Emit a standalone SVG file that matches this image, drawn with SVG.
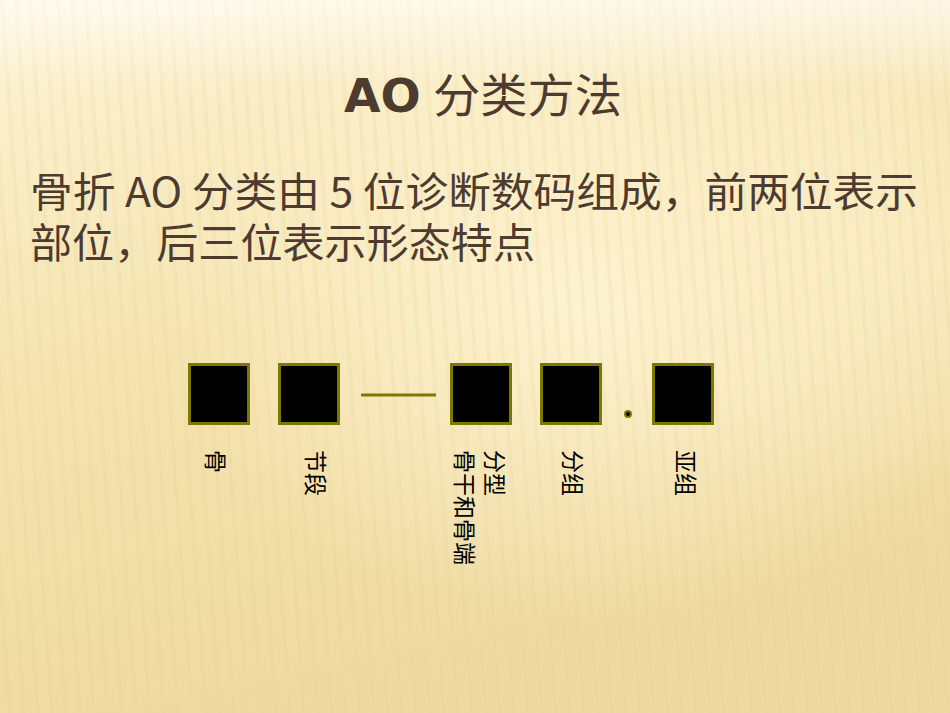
<svg xmlns="http://www.w3.org/2000/svg" width="950" height="713" viewBox="0 0 950 713">
<defs>
<linearGradient id="bg" x1="0" y1="0" x2="0.3" y2="1">
<stop offset="0" stop-color="#fdf4d6"/>
<stop offset="0.5" stop-color="#f5e4b0"/>
<stop offset="1" stop-color="#eed9a0"/>
</linearGradient>
<radialGradient id="glow1" cx="0.62" cy="0.42" r="0.45">
<stop offset="0" stop-color="#fff6d8" stop-opacity="0.85"/>
<stop offset="1" stop-color="#fff6d8" stop-opacity="0"/>
</radialGradient>
<radialGradient id="glow2" cx="0.9" cy="0.35" r="0.35">
<stop offset="0" stop-color="#fbefc8" stop-opacity="0.7"/>
<stop offset="1" stop-color="#fbefc8" stop-opacity="0"/>
</radialGradient>
<linearGradient id="topfade" x1="0" y1="0" x2="0" y2="1">
<stop offset="0" stop-color="#ffffff" stop-opacity="0.6"/>
<stop offset="1" stop-color="#ffffff" stop-opacity="0"/>
</linearGradient>
<pattern id="stripes" width="14" height="713" patternUnits="userSpaceOnUse" patternTransform="skewX(4)">
<rect x="0" y="0" width="4" height="713" fill="#e8d090" opacity="0.18"/>
</pattern>
<style>
.box{fill:#000;stroke:#7a7a00;stroke-width:3}
.title{font-family:"Noto Sans","Noto Sans CJK SC",sans-serif;font-size:46px;fill:#4e3b30}
.ttl-b{font-family:"DejaVu Sans","Noto Sans CJK SC",sans-serif;font-weight:bold}
.body{font-family:"Noto Sans CJK SC",sans-serif;font-size:41px;fill:#4e3b30}
.lbl{font-family:"Noto Sans CJK SC",sans-serif;font-size:23px;fill:#000}
</style>
</defs>
<rect width="950" height="713" fill="url(#bg)"/>
<rect width="950" height="713" fill="url(#glow1)"/>
<rect width="950" height="713" fill="url(#glow2)"/>
<rect width="950" height="713" fill="url(#stripes)"/>
<rect width="950" height="90" fill="url(#topfade)"/>

<g id="title">
<text class="title" x="344" y="112" textLength="278" lengthAdjust="spacingAndGlyphs"><tspan class="ttl-b">AO</tspan> 分类方法</text>
</g>
<g id="body">
<text class="body" x="30" y="207" textLength="888" lengthAdjust="spacingAndGlyphs">骨折 AO 分类由 5 位诊断数码组成，前两位表示</text>
<text class="body" x="30" y="258" textLength="505" lengthAdjust="spacingAndGlyphs">部位，后三位表示形态特点</text>
</g>

<g id="connectors">
<line x1="361" y1="395" x2="436" y2="395" stroke="#7a7a00" stroke-width="3"/>
<circle cx="628" cy="414" r="3" fill="#000" stroke="#7a7a00" stroke-width="2"/>
</g>

<g id="n1"><rect class="box" x="189.5" y="364.5" width="59" height="59"/>
<text class="lbl" transform="translate(207,450) rotate(90)">骨</text></g>
<g id="n2"><rect class="box" x="279.5" y="364.5" width="59" height="59"/>
<text class="lbl" transform="translate(307,450) rotate(90)">节段</text></g>
<g id="n3"><rect class="box" x="451.5" y="364.5" width="59" height="59"/>
<text class="lbl" transform="translate(486,450) rotate(90)">分型</text>
<text class="lbl" transform="translate(456,450) rotate(90)">骨干和骨端</text></g>
<g id="n4"><rect class="box" x="541.5" y="364.5" width="59" height="59"/>
<text class="lbl" transform="translate(564,450) rotate(90)">分组</text></g>
<g id="n5"><rect class="box" x="653.5" y="364.5" width="59" height="59"/>
<text class="lbl" transform="translate(677,450) rotate(90)">亚组</text></g>
</svg>
